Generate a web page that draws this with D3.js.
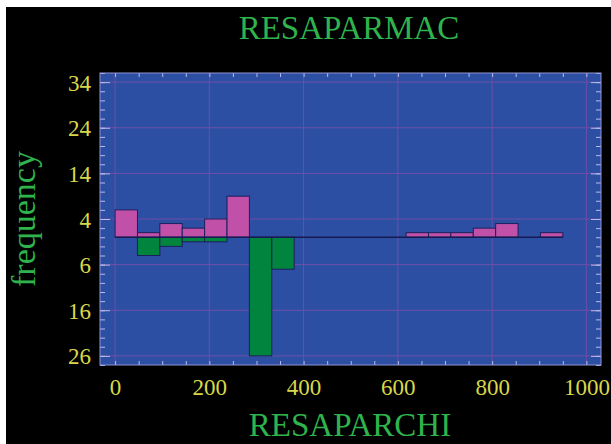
<!DOCTYPE html>
<meta charset="utf-8">
<script src="https://d3js.org/d3.v7.min.js"></script>
<style>
  body { margin: 0; background: #000; }
  svg { display: block; }
</style>
<div id="chart"></div>
<script>
// histogram bins (lower edges), both series share them
const binStarts = [0, 47.5, 95, 142.5, 190, 237.5, 285, 332.5, 380, 427.5,
                   475, 522.5, 570, 617.5, 665, 712.5, 760, 807.5, 855, 902.5];
const binWidth = 47.5;
// counts drawn upward (RESAPARMAC) and downward (RESAPARCHI)
const resaparmac = [6, 1, 3, 2, 4, 9, 0, 0, 0, 0, 0, 0, 0, 1, 1, 1, 2, 3, 0, 1];
const resaparchi = [0, 4, 2, 1, 1, 0, 26, 7, 0, 0, 0, 0, 0, 0, 0, 0, 0, 0, 0, 0];
const xTicks = [0, 200, 400, 600, 800, 1000];
const yTicks = [34, 24, 14, 4, -6, -16, -26];

const W = 611, H = 444;
const plot = {left: 100, right: 601, top: 73, bottom: 365};

const svg = d3.select("#chart").append("svg")
    .attr("width", W).attr("height", H);

svg.append("rect").attr("width", W).attr("height", H).attr("fill", "#000");
// white strip the scan left on top and left
svg.append("rect").attr("width", W).attr("height", 7).attr("fill", "#fff");
svg.append("rect").attr("width", 6).attr("height", H).attr("fill", "#fff");

const x = d3.scaleLinear().domain([-32, 1031]).range([plot.left, plot.right]);
const y = d3.scaleLinear().domain([-28, 36]).range([plot.bottom, plot.top]);

svg.append("rect")
    .attr("x", plot.left).attr("y", plot.top)
    .attr("width", plot.right - plot.left).attr("height", plot.bottom - plot.top)
    .attr("fill", "#2c4fa3");

// grid
const gridColor = "#6d4fa8";
svg.append("g").selectAll("line").data(xTicks).join("line")
    .attr("x1", d => x(d)).attr("x2", d => x(d))
    .attr("y1", plot.top).attr("y2", plot.bottom)
    .attr("stroke", gridColor).attr("stroke-width", 1);
svg.append("g").selectAll("line").data(yTicks).join("line")
    .attr("x1", plot.left).attr("x2", plot.right)
    .attr("y1", d => y(d)).attr("y2", d => y(d))
    .attr("stroke", gridColor).attr("stroke-width", 1);

// tick marks (pointing inward)
const xMinor = d3.range(0, 1001, 50);
const yMinor = d3.range(-28, 37, 2);
const tickColor = "#b8bce8";

function inwardAxis(axis, transform) {
  const g = svg.append("g").attr("transform", transform).call(axis);
  g.select(".domain").remove();
  g.selectAll("line").attr("stroke", tickColor).attr("stroke-width", 1);
  g.selectAll("text").remove();
  return g;
}
inwardAxis(d3.axisBottom(x).tickValues(xMinor).tickSize(-4), `translate(0,${plot.bottom})`);
inwardAxis(d3.axisTop(x).tickValues(xMinor).tickSize(-4), `translate(0,${plot.top})`);
inwardAxis(d3.axisLeft(y).tickValues(yMinor).tickSize(-5), `translate(${plot.left},0)`);
inwardAxis(d3.axisLeft(y).tickValues(yTicks).tickSize(-10), `translate(${plot.left},0)`);
inwardAxis(d3.axisRight(y).tickValues(yMinor).tickSize(-5), `translate(${plot.right},0)`);
inwardAxis(d3.axisRight(y).tickValues(yTicks).tickSize(-10), `translate(${plot.right},0)`);

// bars
const bins = binStarts.map((b, i) => ({x0: b, up: resaparmac[i], down: resaparchi[i]}));
const barStroke = "#1c1f5c";

svg.append("g").selectAll("rect")
    .data(bins.filter(d => d.down > 0))
    .join("rect")
    .attr("x", d => x(d.x0))
    .attr("y", y(0))
    .attr("width", d => x(d.x0 + binWidth) - x(d.x0))
    .attr("height", d => y(-d.down) - y(0))
    .attr("fill", "#00843e")
    .attr("stroke", barStroke).attr("stroke-width", 1);

svg.append("g").selectAll("rect")
    .data(bins.filter(d => d.up > 0))
    .join("rect")
    .attr("x", d => x(d.x0))
    .attr("y", d => y(d.up))
    .attr("width", d => x(d.x0 + binWidth) - x(d.x0))
    .attr("height", d => y(0) - y(d.up))
    .attr("fill", "#c050a8")
    .attr("stroke", barStroke).attr("stroke-width", 1);

// baseline
svg.append("line")
    .attr("x1", x(binStarts[0])).attr("x2", x(binStarts[binStarts.length - 1] + binWidth))
    .attr("y1", y(0)).attr("y2", y(0))
    .attr("stroke", "#161a50").attr("stroke-width", 1.5);

// frame
svg.append("rect")
    .attr("x", plot.left).attr("y", plot.top)
    .attr("width", plot.right - plot.left).attr("height", plot.bottom - plot.top)
    .attr("fill", "none").attr("stroke", "#8e94d4").attr("stroke-width", 1);

// tick labels
const font = "'Liberation Serif', 'DejaVu Serif', serif";
const yellow = "#d8d84a";
const green = "#2fb34c";

const xAxis = svg.append("g")
    .attr("transform", `translate(0,${plot.bottom})`)
    .call(d3.axisBottom(x).tickValues(xTicks).tickSize(0).tickPadding(0)
      .tickFormat(d3.format("d")));
xAxis.select(".domain").remove();
xAxis.selectAll("text")
    .attr("y", 30).attr("dy", 0)
    .attr("fill", yellow)
    .style("font-family", font).style("font-size", "23px");

const yAxis = svg.append("g")
    .attr("transform", `translate(91,0)`)
    .call(d3.axisLeft(y).tickValues(yTicks).tickSize(0).tickPadding(0)
      .tickFormat(d => Math.abs(d)));
yAxis.select(".domain").remove();
yAxis.selectAll("text")
    .attr("x", 0).attr("dy", "0.35em")
    .attr("fill", yellow)
    .style("font-family", font).style("font-size", "23px");

// titles
svg.append("text")
    .attr("x", 349).attr("y", 39)
    .attr("text-anchor", "middle")
    .attr("fill", green)
    .style("font-family", font).style("font-size", "33px")
    .text("RESAPARMAC");

svg.append("text")
    .attr("x", 350).attr("y", 436)
    .attr("text-anchor", "middle")
    .attr("fill", green)
    .style("font-family", font).style("font-size", "33px")
    .text("RESAPARCHI");

svg.append("text")
    .attr("transform", "translate(35,219) rotate(-90)")
    .attr("text-anchor", "middle")
    .attr("fill", green)
    .style("font-family", font).style("font-size", "34px")
    .text("frequency");
</script>
